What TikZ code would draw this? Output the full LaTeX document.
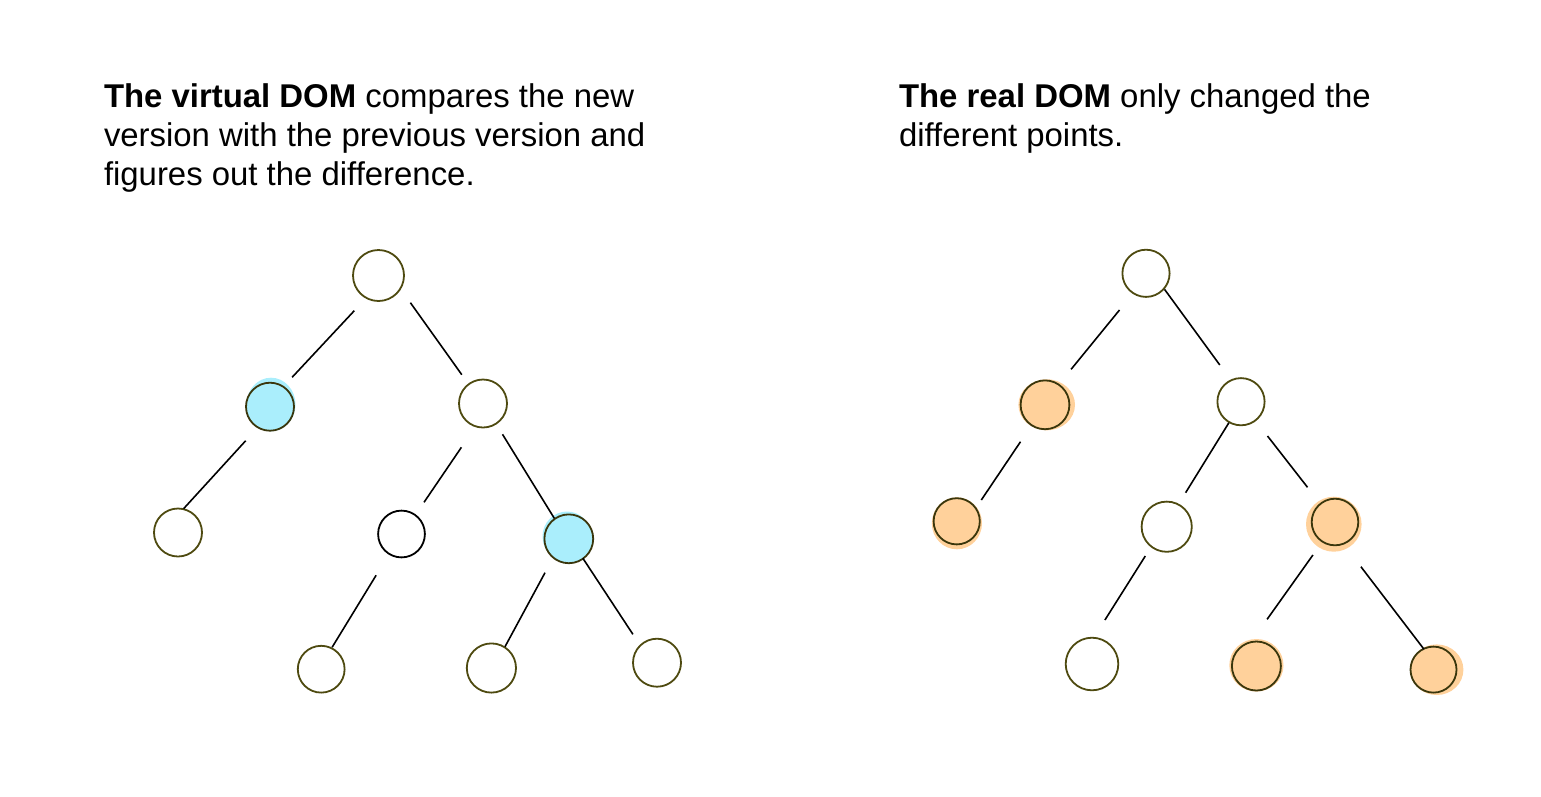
\documentclass[tikz,border=0pt]{standalone}
\usepackage{fontspec}
\setmainfont{Liberation Sans}
\definecolor{olivec}{RGB}{78,74,16}
\definecolor{olived}{RGB}{58,54,12}
\definecolor{cyanf}{RGB}{170,238,252}
\definecolor{orangef}{RGB}{255,209,155}
\tikzset{
  txt/.style={anchor=base west, inner sep=0pt, outer sep=0pt, font=\fontsize{32.9}{39}\selectfont},
  tnode/.style={circle, draw=olivec, line width=1.8pt, inner sep=0pt, outer sep=0pt, fill=white},
  bnode/.style={circle, draw=black, line width=1.8pt, inner sep=0pt, outer sep=0pt, fill=white},
  cnode/.style={circle, draw=olived, line width=1.8pt, inner sep=0pt, outer sep=0pt, fill=cyanf},
  onode/.style={circle, draw=olived, line width=1.8pt, inner sep=0pt, outer sep=0pt, fill=orangef},
  edge/.style={draw=black, line width=1.6pt},
}
\begin{document}
\begin{tikzpicture}[x=1pt,y=-1pt]
\useasboundingbox (0,0) rectangle (1541,796);
% texts
\node[txt] (t1a) at (104,107) {\textbf{The virtual DOM} compares the new};
\node[txt] (t1b) at (104,146) {version with the previous version and};
\node[txt] (t1c) at (104,185) {figures out the difference.};
\node[txt] (t2a) at (899,107) {\textbf{The real DOM} only changed the};
\node[txt] (t2b) at (899,146) {different points.};
% coordinates of node centres
\coordinate (pr) at (378.5,275.5);
\coordinate (pa) at (270,406.7);
\coordinate (pe) at (568.8,538.8);
\coordinate (qA) at (1045,404.8);
\coordinate (qC) at (956.7,521.3);
\coordinate (qE) at (1335,522);
\coordinate (qG) at (1256.4,666);
\coordinate (qH) at (1433.5,669.6);
% highlight blobs
\fill[cyanf] ([shift={(1,-2.2)}]pa) ellipse [x radius=24.5pt, y radius=26.8pt];
\fill[cyanf] ([shift={(-1.8,-2.3)}]pe) ellipse [x radius=24.5pt, y radius=25pt];
\fill[orangef] ([shift={(1.7,0)}]qA) ellipse [x radius=28.3pt, y radius=25.5pt];
\fill[orangef] ([shift={(0.2,2)}]qC) ellipse [x radius=25.1pt, y radius=26pt];
\fill[orangef] ([shift={(-1.2,2.2)}]qE) ellipse [x radius=27.8pt, y radius=27.5pt];
\fill[orangef] ([shift={(0,-0.7)}]qG) ellipse [x radius=27.1pt, y radius=26.3pt];
\fill[orangef] ([shift={(3.2,0.1)}]qH) ellipse [x radius=26.7pt, y radius=25.3pt];
% left tree nodes
\node[tnode, minimum size=51pt] (r) at (pr) {};
\node[cnode, minimum size=48pt] (a) at (pa) {};
\node[tnode, minimum size=48pt] (b) at (483,403.5) {};
\node[tnode, minimum size=48pt] (c) at (178,532.5) {};
\node[bnode, minimum size=46.8pt] (d) at (401.5,534) {};
\node[cnode, minimum size=48.8pt] (e) at (pe) {};
\node[tnode, minimum size=46.8pt] (f) at (321.2,669.2) {};
\node[tnode, minimum size=49.2pt] (g) at (491.4,668) {};
\node[tnode, minimum size=48pt] (h) at (657,662.7) {};
% right tree nodes
\node[tnode, minimum size=47.2pt] (R) at (1146,273.3) {};
\node[onode, minimum size=48.8pt] (A) at (qA) {};
\node[tnode, minimum size=47.2pt] (B) at (1241,401.7) {};
\node[onode, minimum size=46.2pt] (C) at (qC) {};
\node[tnode, minimum size=50.2pt] (D) at (1166.7,526.7) {};
\node[onode, minimum size=46.6pt] (E) at (qE) {};
\node[tnode, minimum size=52.6pt] (F) at (1092,664) {};
\node[onode, minimum size=49pt] (G) at (qG) {};
\node[onode, minimum size=46pt] (H) at (qH) {};
% left edges
\draw[edge] ([shift={(-24.2,35.2)}]r.center) -- ([shift={(22.1,-29.4)}]a.center);
\draw[edge] ([shift={(31.9,27.2)}]r.center) -- ([shift={(-21.2,-28.8)}]b.center);
\draw[edge] ([shift={(-24.3,34)}]a.center) -- ([shift={(5.6,-23.8)}]c.center);
\draw[edge] ([shift={(-21.6,43.8)}]b.center) -- ([shift={(22.5,-31.7)}]d.center);
\draw[edge] ([shift={(19.5,30.8)}]b.center) -- ([shift={(-14.5,-20.5)}]e.center);
\draw[edge] ([shift={(-25.4,41.3)}]d.center) -- ([shift={(10.9,-21.9)}]f.center);
\draw[edge] ([shift={(-23.8,33.9)}]e.center) -- ([shift={(13.6,-21.3)}]g.center);
\draw[edge] ([shift={(14.1,19.5)}]e.center) -- ([shift={(-24.1,-28.4)}]h.center);
% right edges
\draw[edge] ([shift={(-26.5,36.7)}]R.center) -- ([shift={(26.1,-35.5)}]A.center);
\draw[edge] ([shift={(18.5,16)}]R.center) -- ([shift={(-21.2,-36.7)}]B.center);
\draw[edge] ([shift={(-24.5,36.9)}]A.center) -- ([shift={(24.6,-21.3)}]C.center);
\draw[edge] ([shift={(-12.1,21)}]B.center) -- ([shift={(18.9,-34)}]D.center);
\draw[edge] ([shift={(26.5,34.3)}]B.center) -- ([shift={(-27.5,-34.7)}]E.center);
\draw[edge] ([shift={(-21.4,29.3)}]D.center) -- ([shift={(12.9,-44)}]F.center);
\draw[edge] ([shift={(-22.1,33)}]E.center) -- ([shift={(10.7,-46.7)}]G.center);
\draw[edge] ([shift={(25.9,44.7)}]E.center) -- ([shift={(-9.7,-20.6)}]H.center);
\end{tikzpicture}
\end{document}
